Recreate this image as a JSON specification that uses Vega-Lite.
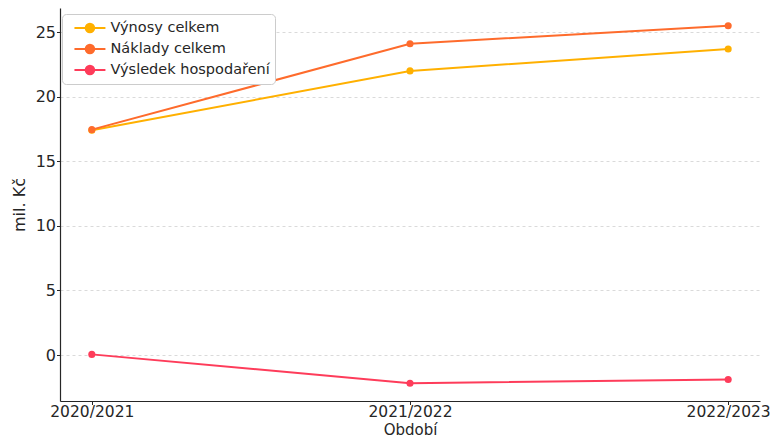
{
  "$schema": "https://vega.github.io/schema/vega-lite/v6.json",
  "width": 700,
  "height": 393,
  "autosize": {"type": "none"},
  "padding": {"left": 60, "top": 8, "right": 11, "bottom": 37},
  "background": "white",
  "config": {
    "font": "DejaVu Sans",
    "view": {"stroke": null},
    "axis": {
      "labelFont": "DejaVu Sans",
      "titleFont": "DejaVu Sans",
      "labelFontSize": 16,
      "titleFontSize": 16,
      "labelColor": "#262626",
      "titleColor": "#262626",
      "titleFontWeight": "normal",
      "domainColor": "#262626",
      "domainWidth": 1.2,
      "tickColor": "#262626",
      "tickSize": 3.5,
      "gridColor": "#d0d0d0",
      "gridDash": [3, 3],
      "gridWidth": 0.8
    }
  },
  "data": {
    "values": [
      {"obdobi": "2020/2021", "serie": "Výnosy celkem", "hodnota": 17.4},
      {"obdobi": "2021/2022", "serie": "Výnosy celkem", "hodnota": 22.0},
      {"obdobi": "2022/2023", "serie": "Výnosy celkem", "hodnota": 23.7},
      {"obdobi": "2020/2021", "serie": "Náklady celkem", "hodnota": 17.45},
      {"obdobi": "2021/2022", "serie": "Náklady celkem", "hodnota": 24.1},
      {"obdobi": "2022/2023", "serie": "Náklady celkem", "hodnota": 25.5},
      {"obdobi": "2020/2021", "serie": "Výsledek hospodaření", "hodnota": 0.05},
      {"obdobi": "2021/2022", "serie": "Výsledek hospodaření", "hodnota": -2.18},
      {"obdobi": "2022/2023", "serie": "Výsledek hospodaření", "hodnota": -1.9}
    ]
  },
  "encoding": {
    "x": {
      "field": "obdobi", "type": "ordinal", "title": "Období",
      "scale": {"type": "point", "padding": 0.1},
      "axis": {"labelAngle": 0, "titlePadding": 2, "titleFontSize": 15, "labelFontSize": 15.5, "labelPadding": 0}
    },
    "y": {
      "field": "hodnota", "type": "quantitative", "title": "mil. Kč",
      "scale": {"domain": [-3.56, 26.87], "nice": false, "zero": false},
      "axis": {"values": [0, 5, 10, 15, 20, 25], "titlePadding": 8, "labelPadding": 1}
    },
    "color": {
      "field": "serie", "type": "nominal",
      "scale": {
        "domain": ["Výnosy celkem", "Náklady celkem", "Výsledek hospodaření"],
        "range": ["#ffb000", "#fe6b2c", "#fe3c5a"]
      },
      "legend": {
        "title": null,
        "orient": "none",
        "legendX": 2,
        "legendY": 6,
        "labelFont": "DejaVu Sans",
        "labelFontSize": 14.5,
        "labelLimit": 400,
        "labelColor": "#262626",
        "symbolType": "M-0.2,0L3.8,0M1.25,0a0.55,0.55 0 1,0 1.1,0a0.55,0.55 0 1,0 -1.1,0",
        "symbolSize": 240,
        "symbolStrokeWidth": 2,
        "labelOffset": 25.5,
        "rowPadding": 3,
        "padding": 5,
        "strokeColor": "#cccccc",
        "fillColor": "white",
        "cornerRadius": 4,
        "encode": {
          "symbols": {"update": {"stroke": {"scale": "color", "field": "value"}, "fill": {"scale": "color", "field": "value"}, "opacity": {"value": 1}}}
        }
      }
    }
  },
  "layer": [
    {"mark": {"type": "line", "strokeWidth": 2}},
    {"mark": {"type": "point", "filled": true, "size": 50, "opacity": 1}}
  ]
}
